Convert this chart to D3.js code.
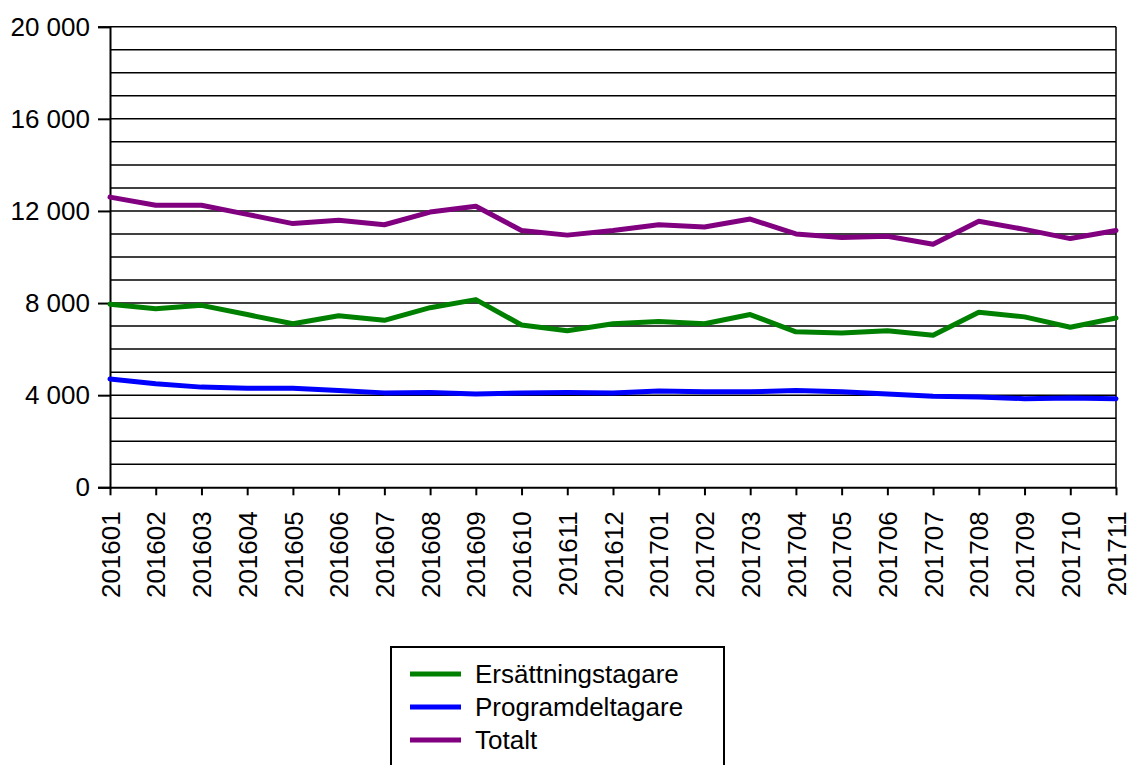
<!DOCTYPE html>
<html lang="sv">
<head>
<meta charset="UTF-8">
<title>Ersättningstagare och programdeltagare</title>
<script src="https://d3js.org/d3.v7.min.js"></script>
<style>
    html, body { margin: 0; padding: 0; background: #fff; }
    svg { display: block; }
    text { font-family: "Liberation Sans", Arial, sans-serif; fill: #000; }
</style>
</head>
<body>
<svg id="chart" width="1127" height="765"></svg>
<script>
// months (x categories)
const months = ["201601","201602","201603","201604","201605","201606","201607","201608",
    "201609","201610","201611","201612","201701","201702","201703","201704","201705",
    "201706","201707","201708","201709","201710","201711"];

const ersattning = [7950, 7750, 7900, 7500, 7100, 7450, 7250, 7800, 8150, 7050, 6800, 7100,
    7200, 7100, 7500, 6750, 6700, 6800, 6600, 7600, 7400, 6950, 7350];
const program = [4700, 4500, 4350, 4300, 4300, 4200, 4100, 4120, 4050, 4100, 4120, 4100,
    4180, 4150, 4150, 4200, 4150, 4050, 3950, 3920, 3850, 3880, 3850];
const totalt = [12600, 12250, 12250, 11850, 11450, 11600, 11400, 11950, 12200, 11150, 10950, 11150,
    11400, 11300, 11650, 11000, 10850, 10900, 10550, 11550, 11200, 10800, 11150];

const yTicks = [0, 4000, 8000, 12000, 16000, 20000];
const gridVals = d3.range(1000, 20001, 1000);

const series = [
    { name: "Ersättningstagare", values: ersattning, color: "#008000" },
    { name: "Programdeltagare", values: program, color: "#0000ff" },
    { name: "Totalt", values: totalt, color: "#800080" }
];

const svg = d3.select("#chart");
const plotL = 110, plotR = 1116, plotT = 26.7, plotB = 487.3;

const x = d3.scalePoint().domain(months).range([plotL, plotR]);
const y = d3.scaleLinear().domain([0, 20000]).range([plotB, plotT]);

const fmt = v => d3.format(",")(v).replace(/,/g, " ");

// gridlines
svg.append("g")
    .selectAll("line")
    .data(gridVals)
    .join("line")
    .attr("x1", plotL).attr("x2", plotR)
    .attr("y1", d => y(d)).attr("y2", d => y(d))
    .attr("stroke", "#000")
    .attr("stroke-width", 1.5);

// right border
svg.append("line")
    .attr("x1", plotR).attr("x2", plotR)
    .attr("y1", y(20000)).attr("y2", y(0))
    .attr("stroke", "#000").attr("stroke-width", 1.5);

// y axis
const yAxis = svg.append("g")
    .attr("transform", `translate(${plotL},0)`)
    .call(d3.axisLeft(y).tickValues(yTicks).tickFormat(fmt).tickSize(12).tickPadding(8));
yAxis.select(".domain").attr("stroke-width", 2);
yAxis.selectAll(".tick line").attr("stroke-width", 2);
yAxis.selectAll("text").attr("font-size", 26).attr("font-family", null);

// x axis
const xAxis = svg.append("g")
    .attr("transform", `translate(0,${plotB})`)
    .call(d3.axisBottom(x).tickSize(8).tickSizeOuter(0));
xAxis.select(".domain").attr("stroke-width", 2);
xAxis.selectAll(".tick line").attr("stroke-width", 2);
xAxis.selectAll("text")
    .attr("font-size", 26)
    .attr("font-family", null)
    .attr("transform", "rotate(-90)")
    .attr("text-anchor", "end")
    .attr("x", -24)
    .attr("y", 0)
    .attr("dy", "0.35em");

// lines
const line = d3.line()
    .x((d, i) => x(months[i]))
    .y(d => y(d));

svg.append("g")
    .selectAll("path")
    .data(series)
    .join("path")
    .attr("d", d => line(d.values))
    .attr("fill", "none")
    .attr("stroke", d => d.color)
    .attr("stroke-width", 5)
    .attr("stroke-linejoin", "round")
    .attr("stroke-linecap", "round");

// legend
const legend = svg.append("g");
legend.append("rect")
    .attr("x", 391).attr("y", 647)
    .attr("width", 333).attr("height", 140)
    .attr("fill", "#fff")
    .attr("stroke", "#000")
    .attr("stroke-width", 2);

const items = legend.selectAll("g.item")
    .data(series)
    .join("g")
    .attr("class", "item")
    .attr("transform", (d, i) => `translate(410,${674 + i * 33})`);
items.append("line")
    .attr("x1", 0).attr("x2", 51)
    .attr("stroke", d => d.color)
    .attr("stroke-width", 5);
items.append("text")
    .attr("x", 65)
    .attr("dy", "0.35em")
    .attr("font-size", 26)
    .text(d => d.name);
</script>
</body>
</html>
